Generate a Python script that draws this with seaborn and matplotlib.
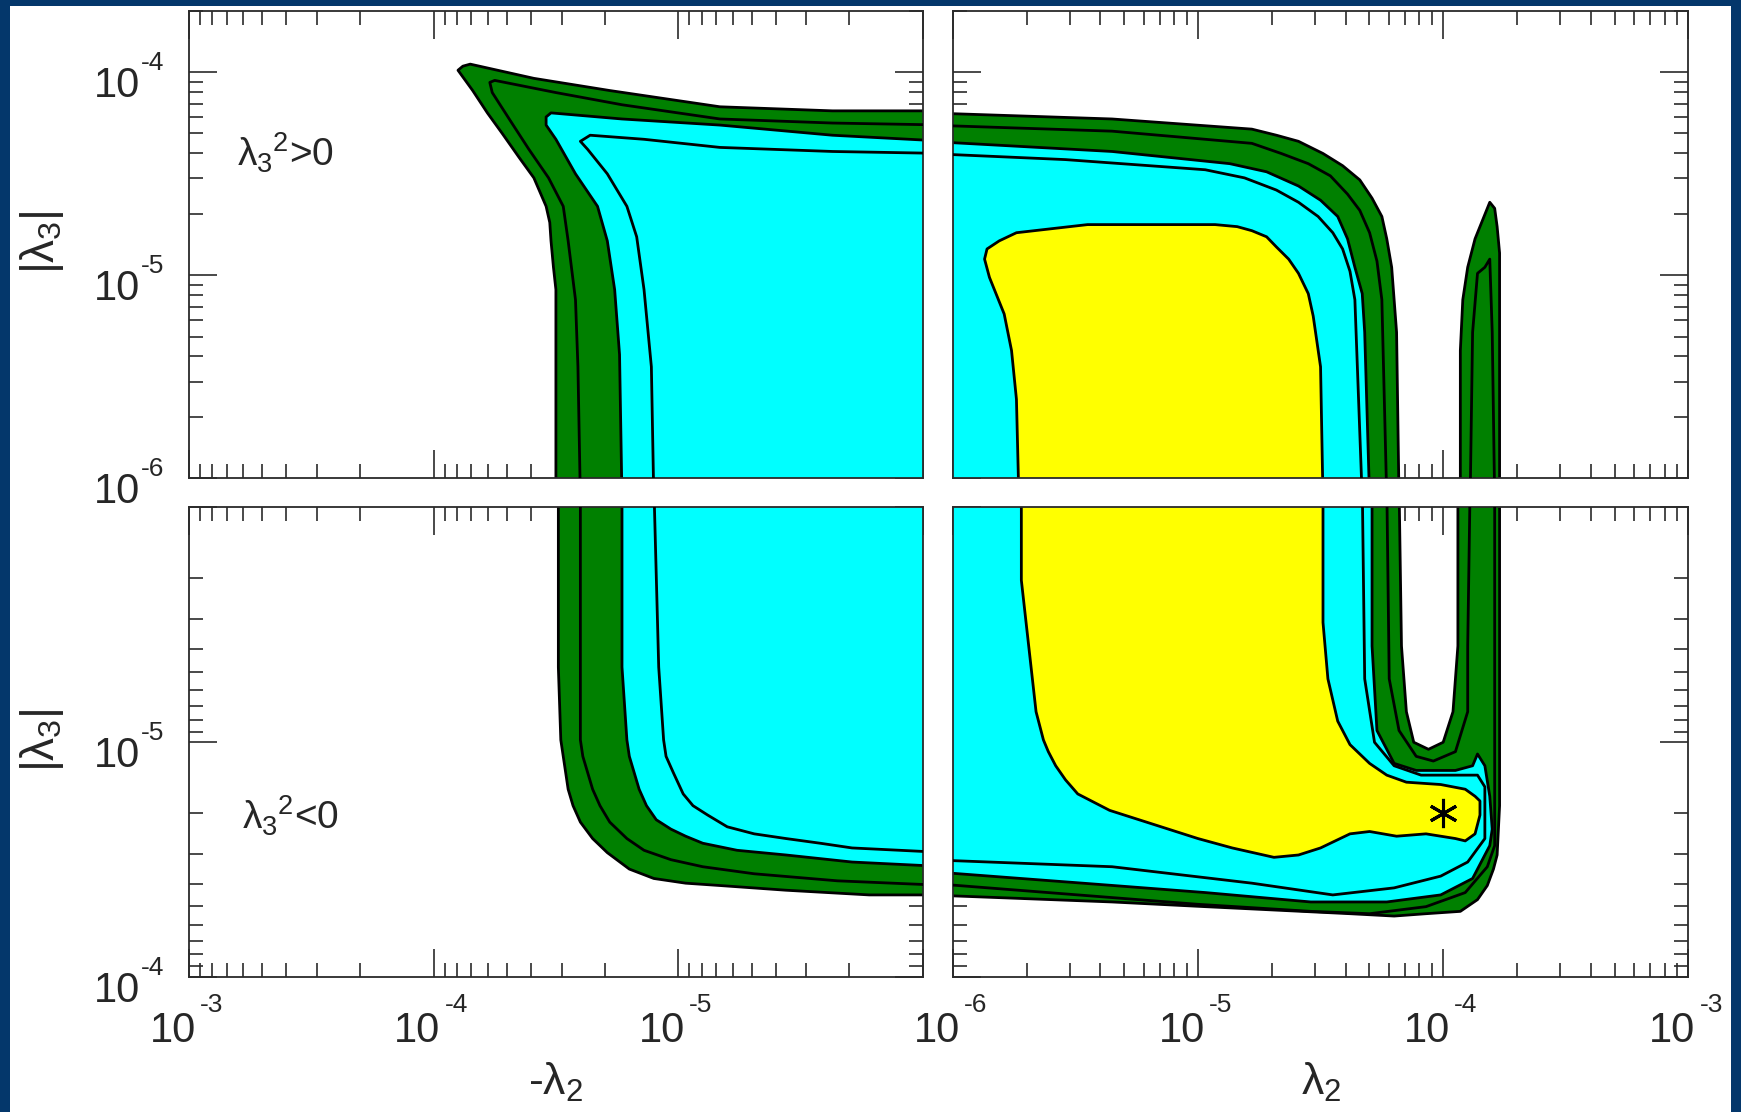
import numpy as np
import matplotlib
matplotlib.use('Agg')
import matplotlib.pyplot as plt
import matplotlib.transforms as mtransforms
from matplotlib.ticker import LogLocator, NullFormatter
import seaborn as sns

# ==========================================
# contour vertices (log10 values)
# left panels: x = log10(-lambda2), right panels: x = log10(lambda2)
# y = log10|lambda3|;  -6.1 = just past the shared 1e-6 edge
# levels: l1 (yellow edge) < l2 < l3 (cyan edge) < l4 < l5 (green edge)
# ==========================================

# top-left  (lambda3^2 > 0, lambda2 < 0)
tl_l5_x = [-4.50, -4.50, -4.50, -4.49, -4.48, -4.475, -4.46, -4.41, -4.35, -4.28, -4.22, -4.16, -4.10, -4.12, -4.15, -4.41, -4.72, -5.17, -5.63, -6.1, -6.1]
tl_l5_y = [-6.1, -5.39, -5.07, -4.96, -4.83, -4.74, -4.66, -4.52, -4.42, -4.30, -4.20, -4.09, -3.99, -3.97, -3.96, -4.03, -4.09, -4.17, -4.19, -4.19, -6.1]
tl_l4_x = [-4.60, -4.59, -4.58, -4.55, -4.53, -4.47, -4.39, -4.32, -4.24, -4.23, -4.25, -4.50, -4.77, -5.17, -5.63, -6.1]
tl_l4_y = [-6.1, -5.45, -5.12, -4.83, -4.66, -4.52, -4.38, -4.25, -4.10, -4.05, -4.04, -4.10, -4.16, -4.23, -4.25, -4.26]
tl_l3_x = [-4.77, -4.76, -4.74, -4.71, -4.67, -4.58, -4.50, -4.46, -4.46, -4.48, -4.77, -5.17, -5.63, -6.1, -6.1]
tl_l3_y = [-6.1, -5.39, -5.07, -4.83, -4.66, -4.50, -4.33, -4.26, -4.22, -4.20, -4.23, -4.26, -4.31, -4.34, -6.1]
tl_l2_x = [-4.90, -4.89, -4.86, -4.83, -4.79, -4.71, -4.63, -4.60, -4.64, -4.86, -5.17, -5.63, -6.1]
tl_l2_y = [-6.1, -5.45, -5.07, -4.81, -4.66, -4.50, -4.38, -4.34, -4.31, -4.33, -4.37, -4.39, -4.40]

# bottom-left  (lambda3^2 < 0, lambda2 < 0)
bl_l5_x = [-4.51, -4.51, -4.52, -4.54, -4.55, -4.57, -4.60, -4.65, -4.71, -4.80, -4.90, -5.03, -5.17, -5.44, -5.78, -6.1, -6.1]
bl_l5_y = [-6.1, -5.32, -5.01, -4.87, -4.80, -4.73, -4.66, -4.59, -4.53, -4.46, -4.42, -4.40, -4.39, -4.37, -4.35, -4.35, -6.1]
bl_l4_x = [-4.60, -4.60, -4.60, -4.61, -4.63, -4.65, -4.68, -4.72, -4.79, -4.86, -4.97, -5.10, -5.31, -5.65, -6.1]
bl_l4_y = [-6.1, -5.32, -5.01, -4.94, -4.87, -4.80, -4.73, -4.66, -4.59, -4.54, -4.50, -4.47, -4.44, -4.41, -4.39]
bl_l3_x = [-4.77, -4.77, -4.79, -4.80, -4.82, -4.84, -4.87, -4.91, -4.97, -5.03, -5.10, -5.24, -5.44, -5.71, -6.1, -6.1]
bl_l3_y = [-6.1, -5.32, -5.01, -4.94, -4.87, -4.80, -4.73, -4.67, -4.63, -4.60, -4.57, -4.54, -4.52, -4.49, -4.47, -6.1]
bl_l2_x = [-4.90, -4.92, -4.94, -4.95, -4.98, -5.02, -5.06, -5.12, -5.20, -5.31, -5.44, -5.58, -5.71, -6.1]
bl_l2_y = [-6.1, -5.32, -5.01, -4.94, -4.87, -4.78, -4.73, -4.69, -4.64, -4.61, -4.59, -4.57, -4.55, -4.53]

# top-right  (lambda3^2 > 0, lambda2 > 0)
tr_l5_x = [-6.1, -5.35, -4.78, -4.68, -4.59, -4.49, -4.41, -4.34, -4.29, -4.25, -4.23, -4.21, -4.19, -4.18, -6.1]
tr_l5_y = [-4.20, -4.23, -4.28, -4.31, -4.34, -4.40, -4.46, -4.53, -4.62, -4.71, -4.82, -4.96, -5.28, -6.1, -6.1]
tr_spike_l5_x = [-3.93, -3.93, -3.92, -3.90, -3.87, -3.84, -3.82, -3.81, -3.79, -3.78, -3.77, -3.77]
tr_spike_l5_y = [-6.1, -5.37, -5.12, -4.96, -4.82, -4.73, -4.67, -4.64, -4.67, -4.76, -4.89, -6.1]
tr_l4_x = [-6.1, -5.35, -4.78, -4.66, -4.55, -4.46, -4.39, -4.34, -4.30, -4.27, -4.25, -4.23]
tr_l4_y = [-4.26, -4.29, -4.35, -4.40, -4.45, -4.51, -4.60, -4.68, -4.79, -4.93, -5.12, -6.1]
tr_spike_l4_x = [-3.89, -3.88, -3.86, -3.83, -3.81, -3.80, -3.79]
tr_spike_l4_y = [-6.1, -5.28, -4.99, -4.96, -4.92, -5.28, -6.1]
tr_l3_x = [-6.1, -5.35, -4.87, -4.72, -4.59, -4.50, -4.43, -4.39, -4.36, -4.33, -4.32, -4.30, -6.1]
tr_l3_y = [-4.34, -4.39, -4.45, -4.49, -4.56, -4.63, -4.71, -4.82, -4.96, -5.09, -5.28, -6.1, -6.1]
tr_l2_x = [-6.1, -5.54, -4.97, -4.81, -4.68, -4.59, -4.51, -4.45, -4.41, -4.38, -4.36, -4.33]
tr_l2_y = [-4.40, -4.43, -4.48, -4.52, -4.58, -4.64, -4.71, -4.79, -4.87, -4.98, -5.12, -6.1]
tr_l1_x = [-5.73, -5.74, -5.76, -5.79, -5.85, -5.87, -5.86, -5.81, -5.74, -5.45, -5.18, -4.93, -4.84, -4.78, -4.72, -4.68, -4.63, -4.59, -4.55, -4.53, -4.50, -4.49]
tr_l1_y = [-6.1, -5.61, -5.37, -5.19, -5.01, -4.92, -4.87, -4.83, -4.79, -4.75, -4.75, -4.75, -4.76, -4.78, -4.81, -4.86, -4.92, -4.99, -5.09, -5.20, -5.45, -6.1]

# bottom-right  (lambda3^2 < 0, lambda2 > 0)
br_l5_x = [-6.1, -4.18, -4.17, -4.15, -4.12, -4.06, -4.00, -3.96, -3.94, -3.94, -3.77, -3.77, -3.77, -3.78, -3.795, -3.82, -3.86, -3.93, -4.07, -4.20, -4.38, -4.97, -5.35, -6.1]
br_l5_y = [-6.1, -6.1, -5.41, -5.13, -5.00, -4.97, -5.00, -5.13, -5.41, -6.1, -6.1, -5.01, -4.73, -4.52, -4.46, -4.39, -4.33, -4.28, -4.27, -4.26, -4.27, -4.30, -4.32, -4.35]
br_l4a_x = [-4.23, -4.22, -4.18, -4.11, -4.04, -3.95, -3.90, -3.90, -3.89]
br_l4a_y = [-6.1, -5.27, -5.05, -4.94, -4.92, -4.96, -5.13, -5.41, -6.1]
br_l4b_x = [-3.79, -3.79, -3.79, -3.82, -3.91, -4.07, -4.30, -4.54, -5.00, -6.1]
br_l4b_y = [-6.1, -4.87, -4.56, -4.47, -4.36, -4.30, -4.27, -4.28, -4.31, -4.40]
br_l3_x = [-6.1, -4.29, -4.29, -4.27, -4.20, -4.11, -3.95, -3.88, -3.86, -3.83, -3.81, -3.80, -3.81, -3.84, -3.88, -4.01, -4.23, -4.54, -4.97, -5.47, -6.1]
br_l3_y = [-6.1, -6.1, -5.41, -5.05, -4.91, -4.88, -4.88, -4.90, -4.95, -4.90, -4.77, -4.63, -4.56, -4.50, -4.42, -4.35, -4.32, -4.32, -4.36, -4.40, -4.45]
br_l2_x = [-4.33, -4.32, -4.28, -4.20, -4.09, -3.86, -3.83, -3.83, -3.83, -3.90, -4.01, -4.20, -4.45, -4.78, -5.35, -6.1]
br_l2_y = [-6.1, -5.27, -5.00, -4.90, -4.86, -4.86, -4.81, -4.70, -4.59, -4.49, -4.43, -4.38, -4.35, -4.40, -4.47, -4.50]
br_l1_x = [-5.72, -5.72, -5.69, -5.66, -5.63, -5.61, -5.58, -5.54, -5.49, -5.36, -5.24, -5.12, -5.00, -4.86, -4.69, -4.59, -4.50, -4.38, -4.30, -4.19,
           -4.07, -3.95, -3.91, -3.87, -3.85, -3.85, -3.87, -3.91, -4.01, -4.15, -4.23, -4.30, -4.38, -4.43, -4.47, -4.49, -4.49]
br_l1_y = [-6.1, -5.69, -5.41, -5.13, -5.01, -4.96, -4.90, -4.84, -4.78, -4.71, -4.67, -4.63, -4.59, -4.55, -4.51, -4.52, -4.55, -4.61, -4.62, -4.60,
           -4.61, -4.59, -4.58, -4.61, -4.69, -4.75, -4.77, -4.80, -4.82, -4.83, -4.86, -4.91, -4.99, -5.09, -5.27, -5.51, -6.1]

# best fit point
best_fit_x = [1e-4]
best_fit_y = [2e-5]

# tick labels (exponents of 10)
x_ticks_left = [-3, -4, -5]
x_ticks_right = [-6, -5, -4, -3]
y_ticks_top = [-4, -5, -6]
y_ticks_bottom = [-5, -4]

# ==========================================
# style
# ==========================================
sns.set_style('ticks')
plt.rcParams['font.family'] = ['Liberation Sans', 'DejaVu Sans']
plt.rcParams['mathtext.fontset'] = 'custom'
plt.rcParams['mathtext.rm'] = 'Liberation Sans'
plt.rcParams['mathtext.it'] = 'Liberation Sans'
plt.rcParams['mathtext.bf'] = 'Liberation Sans:bold'

GREEN, CYAN, YELLOW = '#008000', '#00FFFF', '#FFFF00'
BLUE = '#04376B'
LW = 2.0
W, H = 1741, 1112

fig = plt.figure(figsize=(W / 100, H / 100), dpi=100)
fig.patch.set_facecolor(BLUE)
fig.add_artist(plt.Rectangle((10 / W, 0), 1 - 20 / W, 1 - 6 / H, transform=fig.transFigure,
                             facecolor='white', edgecolor='none', zorder=-5))

ax_tl = fig.add_axes([0.1084, 0.5697, 0.4218, 0.4203])
ax_tr = fig.add_axes([0.5472, 0.5697, 0.4226, 0.4203])
ax_bl = fig.add_axes([0.1084, 0.1213, 0.4218, 0.4224])
ax_br = fig.add_axes([0.5472, 0.1213, 0.4226, 0.4224])


def setup(ax):
    ax.set_xscale('log')
    ax.set_yscale('log')
    ax.set_facecolor('white')
    for s in ax.spines.values():
        s.set_color('#2a2a2a')
        s.set_linewidth(1.3)
        s.set_visible(True)
    for a in (ax.xaxis, ax.yaxis):
        a.set_major_locator(LogLocator(base=10, numticks=12))
        a.set_minor_locator(LogLocator(base=10, subs=np.arange(2, 10), numticks=12))
        a.set_minor_formatter(NullFormatter())
    ax.tick_params(which='both', direction='in', top=True, right=True, bottom=True, left=True,
                   labelbottom=False, labelleft=False, labeltop=False, labelright=False, color='#2a2a2a')
    ax.tick_params(which='major', length=20, width=1.2)
    ax.tick_params(which='minor', length=10, width=1.2)


def band(ax, xs, ys, color):
    ax.fill(10 ** np.array(xs), 10 ** np.array(ys), facecolor=color, edgecolor='black', lw=LW,
            joinstyle='round', zorder=2)


def line(ax, xs, ys):
    sns.lineplot(x=10 ** np.array(xs), y=10 ** np.array(ys), sort=False, estimator=None,
                 color='black', lw=LW, ax=ax, zorder=3, solid_joinstyle='round')


def xlab(ax, e):
    tr = mtransforms.blended_transform_factory(ax.transData, ax.transAxes)
    ax.text(10.0 ** e, 0, '10', transform=mtransforms.offset_copy(tr, fig=fig, x=7, y=-65, units='dots'),
            ha='right', va='baseline', fontsize=30)
    ax.text(10.0 ** e, 0, str(e), transform=mtransforms.offset_copy(tr, fig=fig, x=11, y=-35, units='dots'),
            ha='left', va='baseline', fontsize=19)


def ylab(ax, e):
    tr = mtransforms.blended_transform_factory(ax.transAxes, ax.transData)
    ax.text(0, 10.0 ** e, '10', transform=mtransforms.offset_copy(tr, fig=fig, x=-49, y=-25, units='dots'),
            ha='right', va='baseline', fontsize=30)
    ax.text(0, 10.0 ** e, str(e), transform=mtransforms.offset_copy(tr, fig=fig, x=-48, y=2, units='dots'),
            ha='left', va='baseline', fontsize=19)


for ax in (ax_tl, ax_tr, ax_bl, ax_br):
    setup(ax)

# top-left
band(ax_tl, tl_l5_x, tl_l5_y, GREEN)
band(ax_tl, tl_l3_x, tl_l3_y, CYAN)
line(ax_tl, tl_l4_x, tl_l4_y)
line(ax_tl, tl_l2_x, tl_l2_y)

# bottom-left
band(ax_bl, bl_l5_x, bl_l5_y, GREEN)
band(ax_bl, bl_l3_x, bl_l3_y, CYAN)
line(ax_bl, bl_l4_x, bl_l4_y)
line(ax_bl, bl_l2_x, bl_l2_y)

# top-right
band(ax_tr, tr_l5_x, tr_l5_y, GREEN)
band(ax_tr, tr_spike_l5_x, tr_spike_l5_y, GREEN)
band(ax_tr, tr_l3_x, tr_l3_y, CYAN)
band(ax_tr, tr_l1_x, tr_l1_y, YELLOW)
line(ax_tr, tr_l4_x, tr_l4_y)
line(ax_tr, tr_spike_l4_x, tr_spike_l4_y)
line(ax_tr, tr_l2_x, tr_l2_y)

# bottom-right
band(ax_br, br_l5_x, br_l5_y, GREEN)
band(ax_br, br_l3_x, br_l3_y, CYAN)
band(ax_br, br_l1_x, br_l1_y, YELLOW)
line(ax_br, br_l4a_x, br_l4a_y)
line(ax_br, br_l4b_x, br_l4b_y)
line(ax_br, br_l2_x, br_l2_y)
ax_br.plot(best_fit_x, best_fit_y, linestyle='none', marker=(6, 2, 0), ms=21, mew=2.2, color='black', zorder=4)

for ax, xl, yl in [(ax_tl, (1e-3, 1e-6), (1e-6, 2e-4)), (ax_tr, (1e-6, 1e-3), (1e-6, 2e-4)),
                   (ax_bl, (1e-3, 1e-6), (1e-4, 1e-6)), (ax_br, (1e-6, 1e-3), (1e-4, 1e-6))]:
    ax.set_xlim(*xl)
    ax.set_ylim(*yl)
    ax.set_xlabel('')
    ax.set_ylabel('')

# tick labels
for e in x_ticks_left:
    xlab(ax_bl, e)
for e in x_ticks_right:
    xlab(ax_br, e)
for e in y_ticks_top:
    ylab(ax_tl, e)
for e in y_ticks_bottom:
    ylab(ax_bl, e)

# axis titles
ax_bl.text(0.5, -0.25, r'-$\lambda_2$', transform=ax_bl.transAxes, ha='center', va='baseline', fontsize=32)
ax_br.text(0.5, -0.25, r'$\lambda_2$', transform=ax_br.transAxes, ha='center', va='baseline', fontsize=32)
fig.text(0.024, 0.782, r'$|\lambda_3|$', rotation=90, ha='center', va='center', fontsize=33)
fig.text(0.024, 0.3345, r'$|\lambda_3|$', rotation=90, ha='center', va='center', fontsize=33)

# region labels
ax_tl.text(0.066, 0.667, r'$\lambda_3{}^2$>0', transform=ax_tl.transAxes, ha='left', va='baseline', fontsize=28)
ax_bl.text(0.072, 0.313, r'$\lambda_3{}^2$<0', transform=ax_bl.transAxes, ha='left', va='baseline', fontsize=28)

fig.savefig('out.png', dpi=100, facecolor=fig.get_facecolor())
